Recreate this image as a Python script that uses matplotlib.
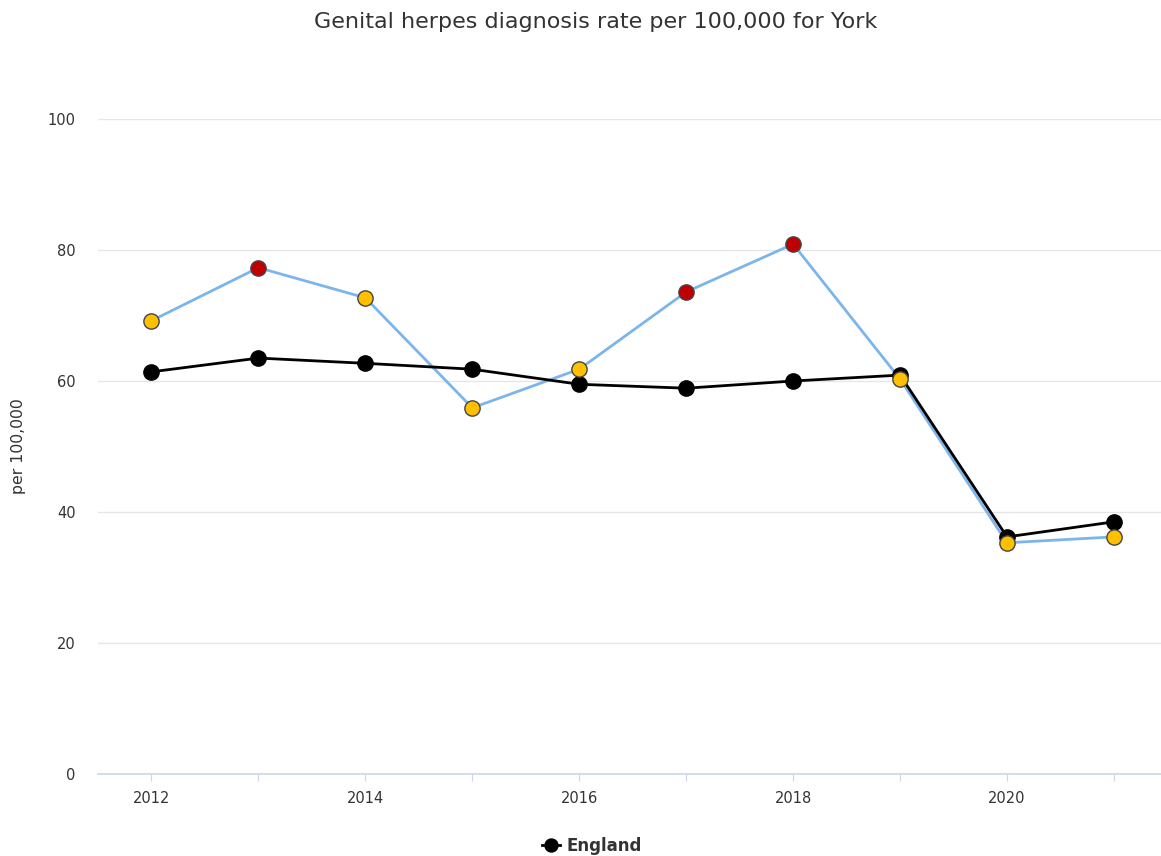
import numpy as np
import matplotlib.pyplot as plt

years = [2012, 2013, 2014, 2015, 2016, 2017, 2018, 2019, 2020, 2021]
york = [69.2, 77.3, 72.7, 55.9, 61.8, 73.6, 80.9, 60.3, 35.3, 36.2]
york_rag = ['amber', 'red', 'amber', 'amber', 'amber', 'red', 'red', 'amber', 'amber', 'amber']
england = [61.4, 63.5, 62.7, 61.8, 59.5, 58.9, 60.0, 60.9, 36.2, 38.5]

rag_colours = {'red': '#c00000', 'amber': '#ffc000'}

W, H = 1161, 856
my_dpi = 100
fig = plt.figure(figsize=(W/my_dpi, H/my_dpi), dpi=my_dpi)
ax = fig.add_axes([98/W, 1 - 774/H, (1161-98)/W, (774-119)/H])

ax.plot(years, york, color='#7cb5ec', lw=2, zorder=2)
ax.plot(years, england, color='black', lw=2, zorder=3,
        marker='o', markersize=11, markerfacecolor='black', markeredgecolor='black',
        label='England')
for x, y, r in zip(years, york, york_rag):
    ax.plot(x, y, marker='o', markersize=11, markerfacecolor=rag_colours[r],
            markeredgecolor='#444444', markeredgewidth=1, zorder=5)

ax.set_xlim(2011.5, 2021.44)
ax.set_ylim(0, 100)
ax.set_yticks([0, 20, 40, 60, 80, 100])
ax.set_xticks(years)
ax.set_xticklabels([str(y) if y % 2 == 0 else '' for y in years])
ax.grid(axis='y', color='#e6e6e6', lw=1)
ax.set_axisbelow(True)
for s in ['top', 'right', 'left']:
    ax.spines[s].set_visible(False)
ax.spines['bottom'].set_color('#ccd6eb')
ax.spines['bottom'].set_linewidth(1.2)
ax.tick_params(axis='x', colors='#ccd6eb', length=5, labelcolor='#333333', labelsize=10.5, pad=7)
ax.tick_params(axis='y', length=0, labelcolor='#333333', labelsize=10.5, pad=16)
ax.set_ylabel('per 100,000', color='#333333', fontsize=11.3, labelpad=16)

fig.text(596/W, 1 - 22/H, 'Genital herpes diagnosis rate per 100,000 for York',
         ha='center', va='center', fontsize=16, color='#333333')

leg = fig.legend(loc='center', bbox_to_anchor=(592/W, 1 - 846/H), frameon=False,
                 prop={'weight': 'bold', 'size': 12}, handlelength=1.1, handletextpad=0.4,
                 markerscale=0.85)
for t in leg.get_texts():
    t.set_color('#333333')

fig.savefig('out.png', dpi=my_dpi)
